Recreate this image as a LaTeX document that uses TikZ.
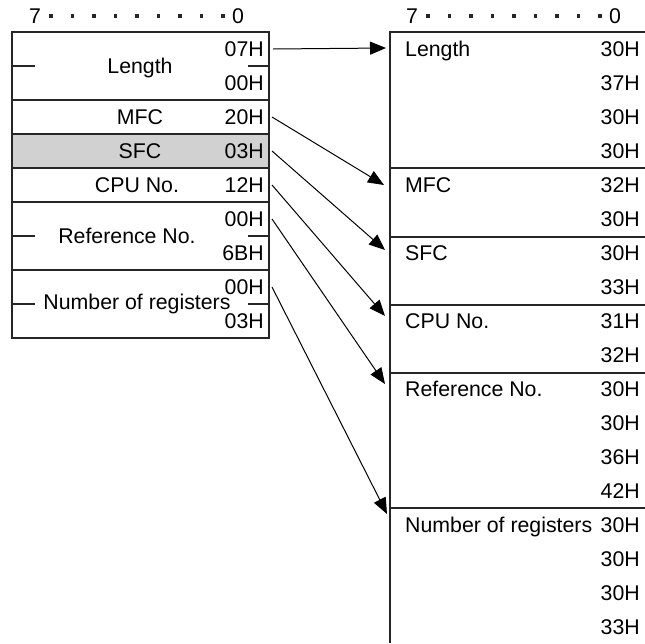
\documentclass[tikz,border=0pt]{standalone}
\usepackage{fontspec}
\setmainfont{Liberation Sans}
\usetikzlibrary{arrows.meta}

\begin{document}
\begin{tikzpicture}[x=1pt, y=-1pt,
  every node/.style={font=\fontsize{21.3}{25}\selectfont, inner sep=1pt, text height=15.2pt, text depth=0pt},
  tbl/.style={line width=1.5pt, draw=black!85},
  hexval/.style={anchor=east},
  field/.style={anchor=west},
  bitdot/.style={fill=black!85, minimum size=3.8pt, inner sep=0pt, text height=, text depth=},
  link/.style={-{Triangle[length=16pt,width=13pt]}, line width=1pt}]
  \useasboundingbox (0,0) rectangle (645,643);

  % bit headers
  \node (lbit7) at (35,16) {7};
  \node (lbit0) at (238,16) {0};
  \node (rbit7) at (412,16) {7};
  \node (rbit0) at (615,16) {0};
  \foreach \k in {0,...,8} {
    \node[bitdot] (ldot\k) at (51+21.5*\k,16) {};
    \node[bitdot] (rdot\k) at (428+21.5*\k,16) {};
  }

  % source frame
  \fill[black!18] (12,134) rectangle (269,168);
  \draw[tbl] (12,32) rectangle (269,338);
  \foreach \y in {100,134,168,202,270} \draw[tbl] (12,\y) -- (269,\y);
  \foreach \y in {66,236,304} {
    \draw[tbl] (12,\y) -- (35,\y);
    \draw[tbl] (248,\y) -- (269,\y);
  }
  \node (llen) at (140,66) {Length};
  \node (lmfc) at (140,117) {MFC};
  \node (lsfc) at (140,151) {SFC};
  \node (lcpu) at (137,185) {CPU No.};
  \node (lref) at (127,236) {Reference No.};
  \node (lnum) at (137,302) {Number of registers};
  \node[hexval] (h07) at (265,49) {07H};
  \node[hexval] (h00a) at (265,83) {00H};
  \node[hexval] (h20) at (265,117) {20H};
  \node[hexval] (h03a) at (265,151) {03H};
  \node[hexval] (h12) at (265,185) {12H};
  \node[hexval] (h00b) at (265,219) {00H};
  \node[hexval] (h6b) at (265,253) {6BH};
  \node[hexval] (h00c) at (265,287) {00H};
  \node[hexval] (h03b) at (265,321) {03H};

  % ASCII frame
  \draw[tbl] (645,32) -- (390,32) -- (390,643);
  \foreach \y in {168,237,305,373,508} \draw[tbl] (390,\y) -- (645,\y);
  \node[field] (rlen) at (404,49) {Length};
  \node[field] (rmfc) at (404,185) {MFC};
  \node[field] (rsfc) at (404,253) {SFC};
  \node[field] (rcpu) at (404,321) {CPU No.};
  \node[field] (rref) at (404,389) {Reference No.};
  \node[field] (rnum) at (404,525) {Number of registers};
  \foreach \v [count=\i from 0] in {30H,37H,30H,30H,32H,30H,30H,33H,31H,32H,30H,30H,36H,42H,30H,30H,30H,33H}
    \node[hexval] (a\i) at (641,49+34*\i) {\v};

  % arrow ends
  \coordinate (tlen) at (386,48);
  \coordinate (tmfc) at (384,185);
  \coordinate (tsfc) at (385,250);
  \coordinate (tcpu) at (385,316);
  \coordinate (tref) at (385,384);
  \coordinate (tnum) at (387,514);

  \draw[link] ([xshift=8pt]h07.east) -- (tlen);
  \draw[link] ([xshift=7pt]h20.east) -- (tmfc);
  \draw[link] ([xshift=7pt]h03a.east) -- (tsfc);
  \draw[link] ([xshift=7pt]h12.east) -- (tcpu);
  \draw[link] ([xshift=7pt]h00b.east) -- (tref);
  \draw[link] ([xshift=7pt]h00c.east) -- (tnum);
\end{tikzpicture}
\end{document}
